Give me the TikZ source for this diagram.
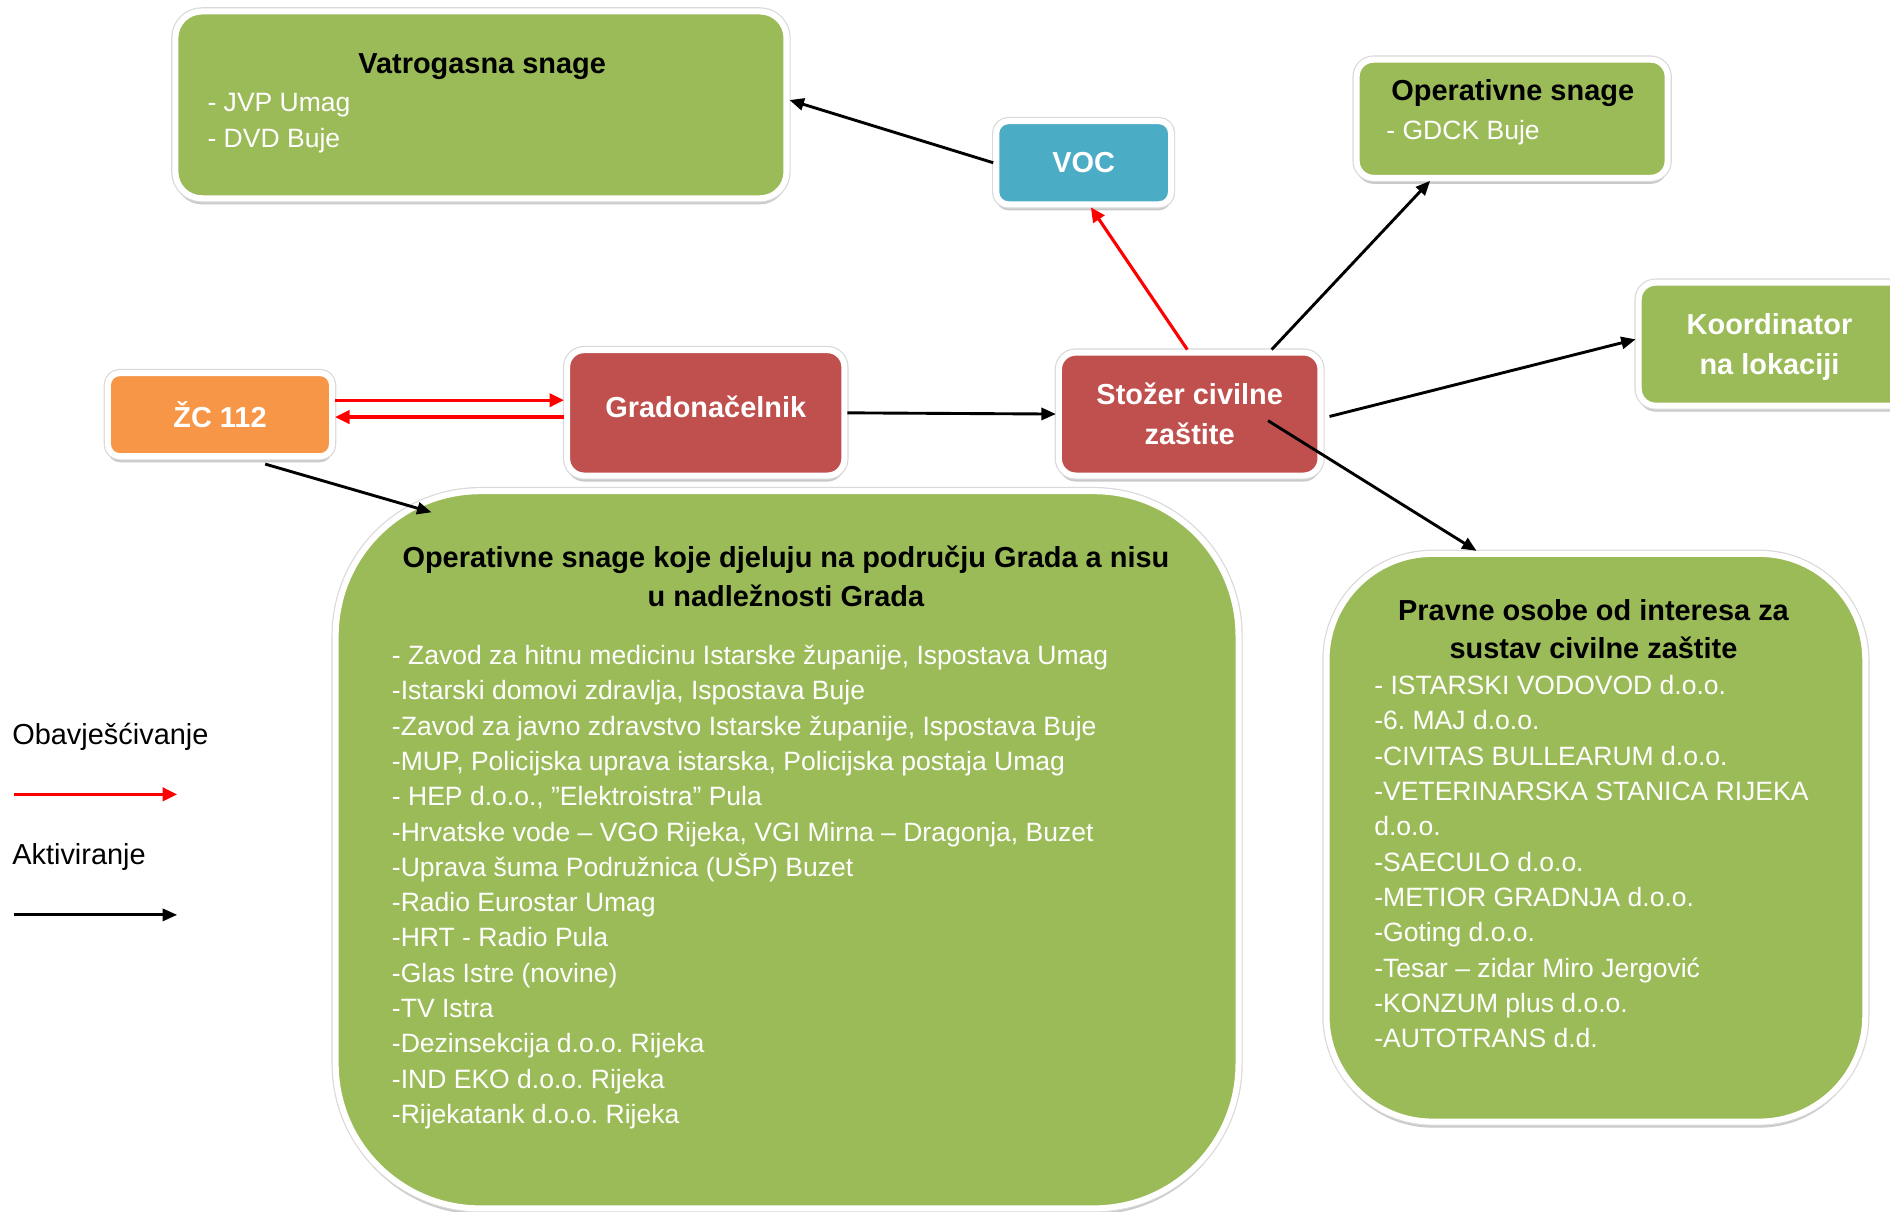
\documentclass[tikz,border=0pt]{standalone}
\usepackage{fontspec}
\setmainfont{Liberation Sans}
\frenchspacing
\usetikzlibrary{arrows.meta,shadows,calc}
\definecolor{grn}{HTML}{9BBB59}
\definecolor{rd}{HTML}{C0504D}
\definecolor{org}{HTML}{F79646}
\definecolor{blu}{HTML}{4BACC6}
\tikzset{
  box/.style={drop shadow={shadow xshift=0pt,shadow yshift=-5pt,opacity=0.3,fill=black!70},
    preaction={draw=black!15,line width=7pt},
    draw=white,line width=5pt,inner sep=0pt,text=white,
    font=\fontsize{24}{33}\selectfont\bfseries,align=center},
  boxtxt/.style={inner sep=0pt,text=white,font=\fontsize{24}{33}\selectfont\bfseries,align=center},
  ttl/.style={font=\fontsize{24}{32}\selectfont\bfseries,text=black,align=center,inner sep=0pt},
  itm/.style={font=\fontsize{22}{29.3}\selectfont,text=white,align=left,inner sep=0pt,anchor=north west},
  lgd/.style={font=\fontsize{24}{30}\selectfont,text=black,inner sep=0pt,anchor=west},
  act/.style={draw=black,line width=2.4pt,-{Triangle[length=12pt,width=10pt]}},
  ntf/.style={draw=red,line width=2.6pt,-{Triangle[length=12pt,width=11pt]}}
}
\begin{document}
\begin{tikzpicture}[x=1pt,y=-1pt]
\useasboundingbox (0,0) rectangle (1568,1005);

% boxes
\node[box,fill=grn,rounded corners=22pt,minimum width=507pt,minimum height=155pt] (vatro) at (399,87) {};
\node[box,fill=blu,rounded corners=10pt,minimum width=145pt,minimum height=69pt] (voc) at (899,135) {VOC};
\node[box,fill=grn,rounded corners=14pt,minimum width=258pt,minimum height=98pt] (opsn) at (1254.5,98.5) {};
\node[box,fill=grn,rounded corners=14pt,minimum width=233pt,minimum height=102pt] (koord) at (1476,285.5) {};
\node[box,fill=org,rounded corners=10pt,minimum width=186pt,minimum height=69pt] (zc) at (182.5,344) {ŽC 112};
\node[box,fill=rd,rounded corners=14pt,minimum width=230pt,minimum height=104pt,text depth=10pt] (grad) at (585.5,342.5) {Gradonačelnik};
\node[box,fill=rd,rounded corners=14pt,minimum width=217pt,minimum height=102pt] (stozer) at (987,343.5) {Stožer civilne\\zaštite};
\node[box,fill=grn,rounded corners=120pt,minimum width=749pt,minimum height=595pt] (big) at (653,705) {};
\node[box,fill=grn,rounded corners=88pt,minimum width=447pt,minimum height=471pt] (pravne) at (1324,695) {};

% texts
\node[ttl] (vatrottl) at (400,55) {Vatrogasna snage};
\node[itm] (vatroitm) at (172,77) {- JVP Umag\\[0.7pt]- DVD Buje};
\node[ttl] (opsnttl) at (1255,77) {Operativne snage};
\node[itm] (opsnitm) at (1150,100) {- GDCK Buje};
\node[boxtxt] (koordtxt) at (1468,288) {Koordinator\\na lokaciji};
\node[ttl,anchor=north] (bigttl) at (652,453) {Operativne snage koje djeluju na području Grada a nisu\\u nadležnosti Grada};
\node[itm] (bigitm) at (325,535) {- Zavod za hitnu medicinu Istarske županije, Ispostava Umag\\
-Istarski domovi zdravlja, Ispostava Buje\\
-Zavod za javno zdravstvo Istarske županije, Ispostava Buje\\
-MUP, Policijska uprava istarska, Policijska postaja Umag\\
- HEP d.o.o., ”Elektroistra” Pula\\
-Hrvatske vode – VGO Rijeka, VGI Mirna – Dragonja, Buzet\\
-Uprava šuma Podružnica (UŠP) Buzet\\
-Radio Eurostar Umag\\
-HRT - Radio Pula\\
-Glas Istre (novine)\\
-TV Istra\\
-Dezinsekcija d.o.o. Rijeka\\
-IND EKO d.o.o. Rijeka\\
-Rijekatank d.o.o. Rijeka};
\node[ttl,anchor=north] (pravnettl) at (1322,497) {Pravne osobe od interesa za\\sustav civilne zaštite};
\node[itm] (pravneitm) at (1140,560) {- ISTARSKI VODOVOD d.o.o.\\
-6. MAJ d.o.o.\\
-CIVITAS BULLEARUM d.o.o.\\
-VETERINARSKA STANICA RIJEKA\\
d.o.o.\\
-SAECULO d.o.o.\\
-METIOR GRADNJA d.o.o.\\
-Goting d.o.o.\\
-Tesar – zidar Miro Jergović\\
-KONZUM plus d.o.o.\\
-AUTOTRANS d.d.};

% legend
\node[lgd] (lgdobv) at (10,611) {Obavješćivanje};
\node[lgd] (lgdakt) at (10,711) {Aktiviranje};
\coordinate (ra) at (12,659);
\coordinate (rb) at (147,659);
\coordinate (ka) at (12,759);
\coordinate (kb) at (147,759);
\draw[ntf] (ra) -- (rb);
\draw[act] (ka) -- (kb);

% connectors
\draw[ntf] ([yshift=12pt]zc.east) -- ([yshift=12pt]zc.east -| grad.west);
\draw[ntf] ([yshift=-2pt]zc.east -| grad.west) -- ([yshift=-2pt]zc.east);
\draw[act] ([xshift=37.5pt,yshift=-4pt]zc.south) -- ([xshift=82pt,yshift=-20pt]big.north west);
\draw[act] (grad.east) -- (stozer.west);
\draw[ntf] ([xshift=-2pt]stozer.north) -- ([xshift=6pt]voc.south);
\draw[act] (voc.west) -- ([yshift=4pt]vatro.east);
\draw[act] ([xshift=68pt]stozer.north) -- ([xshift=-68pt]opsn.south);
\draw[act] ([xshift=5pt,yshift=-2pt]stozer.east) -- ([xshift=0pt,yshift=4pt]koord.west);
\draw[act] ([xshift=65pt,yshift=-5.5pt]stozer.center) -- ([xshift=-99pt]pravne.north);
\end{tikzpicture}
\end{document}
